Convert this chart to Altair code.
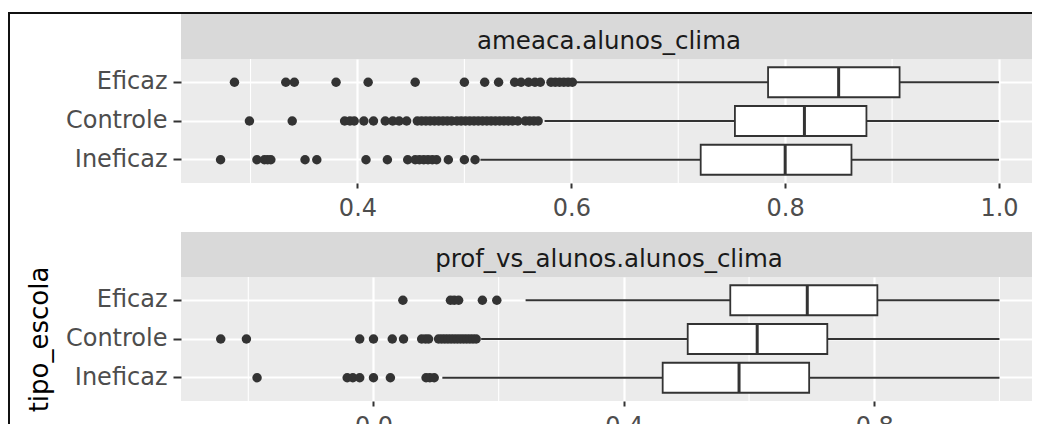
import altair as alt
import pandas as pd

categories = ["Eficaz", "Controle", "Ineficaz"]
panel_names = ["ameaca.alunos_clima", "prof_vs_alunos.alunos_clima"]
axis_title = "tipo_escola"

# ---- panel 1: ameaca.alunos_clima ----
p1_low = [0.604, 0.575, 0.515]
p1_q1 = [0.784, 0.753, 0.721]
p1_med = [0.850, 0.818, 0.800]
p1_q3 = [0.907, 0.876, 0.862]
p1_high = [1.0, 1.0, 1.0]
p1_out_eficaz = [0.285, 0.333, 0.341, 0.380, 0.410, 0.454, 0.500, 0.519, 0.532,
                 0.547, 0.553, 0.560, 0.566, 0.571, 0.581, 0.585, 0.589, 0.593,
                 0.597, 0.601]
p1_out_controle = [0.299, 0.339, 0.388, 0.393, 0.397, 0.406, 0.415, 0.426, 0.433,
                   0.439, 0.446, 0.456, 0.460, 0.464, 0.468, 0.472, 0.476, 0.480,
                   0.484, 0.488, 0.493, 0.497, 0.501, 0.505, 0.509, 0.513, 0.517,
                   0.521, 0.525, 0.529, 0.533, 0.537, 0.541, 0.545, 0.550, 0.557,
                   0.561, 0.565, 0.569]
p1_out_ineficaz = [0.272, 0.306, 0.313, 0.316, 0.319, 0.351, 0.362, 0.408, 0.428,
                   0.447, 0.454, 0.458, 0.462, 0.466, 0.470, 0.474, 0.485, 0.500,
                   0.510]
p1_domain = [0.235, 1.0355]
p1_major = [0.4, 0.6, 0.8, 1.0]
p1_minor = [0.3, 0.5, 0.7, 0.9]

# ---- panel 2: prof_vs_alunos.alunos_clima ----
p2_low = [0.243, 0.172, 0.110]
p2_q1 = [0.570, 0.502, 0.462]
p2_med = [0.693, 0.613, 0.584]
p2_q3 = [0.805, 0.725, 0.696]
p2_high = [1.0, 1.0, 1.0]
p2_out_eficaz = [0.047, 0.123, 0.129, 0.136, 0.174, 0.197]
p2_out_controle = [-0.244, -0.203, -0.022, 0.0, 0.030, 0.048, 0.077, 0.083, 0.088,
                   0.104, 0.109, 0.114, 0.119, 0.124, 0.129, 0.134, 0.139, 0.144,
                   0.149, 0.154, 0.159, 0.164]
p2_out_ineficaz = [-0.186, -0.042, -0.033, -0.022, 0.0, 0.027, 0.084, 0.090, 0.097]
p2_domain = [-0.3075, 1.06]
p2_major = [0.0, 0.4, 0.8]
p2_minor = [-0.2, 0.2, 0.6, 1.0]

W, H = 856, 124
FONT = "DejaVu Sans"
DARK = "#333333"


def make_panel(name, low, q1, med, q3, high, outs, domain, major, minor,
               ytitle=None, frame=False):
    stats = pd.DataFrame({"cat": categories, "low": low, "q1": q1, "med": med,
                          "q3": q3, "high": high})
    rows = []
    for c, vals in zip(categories, outs):
        rows += [{"cat": c, "v": v} for v in vals]
    outl = pd.DataFrame(rows)
    minor_df = pd.DataFrame({"v": minor})
    lab = pd.DataFrame({"label": [name]})

    xscale = alt.Scale(domain=domain, nice=False, zero=False)
    yscale = alt.Scale(domain=categories, paddingInner=0.2, paddingOuter=0.2)
    xaxis = alt.Axis(values=major, format=".1f", title=None, grid=True,
                     gridColor="white", gridWidth=2.2, domain=False,
                     tickColor=DARK, tickWidth=2, tickSize=5,
                     labelFont=FONT, labelFontSize=24, labelColor="#4D4D4D",
                     labelPadding=8)
    yaxis_kw = dict(grid=True, gridColor="white", gridWidth=2.2, domain=False,
                    tickColor=DARK, tickWidth=2, tickSize=8, bandPosition=0.5,
                    labelFont=FONT, labelFontSize=24, labelColor="#4D4D4D",
                    labelPadding=6)
    if ytitle:
        yaxis = alt.Axis(title=ytitle, titleFont=FONT, titleFontSize=26,
                         titleColor="black", titleFontWeight="normal",
                         titleAngle=270, titleBaseline="alphabetic",
                         titleAlign="center", titleX=-134, titleY=H / 2,
                         **yaxis_kw)
    else:
        yaxis = alt.Axis(title=None, **yaxis_kw)

    def X(field):
        return alt.X(field, type="quantitative", scale=xscale, axis=xaxis)

    Y = alt.Y("cat:N", sort=categories, scale=yscale, axis=yaxis)

    minor_rules = alt.Chart(minor_df).mark_rule(color="white", strokeWidth=1.1).encode(
        x=X("v")
    )
    whisk = alt.Chart(stats).mark_rule(color=DARK, strokeWidth=1.8).encode(
        x=X("low"), x2="high:Q", y=Y
    )
    box = alt.Chart(stats).mark_bar(fill="white", stroke=DARK, strokeWidth=1.8,
                                    size=30).encode(
        x=X("q1"), x2="q3:Q", y=Y
    )
    median = alt.Chart(stats).mark_tick(color=DARK, thickness=3, size=30,
                                        opacity=1).encode(
        x=X("med"), y=Y
    )
    points = alt.Chart(outl).mark_circle(color=DARK, size=90, opacity=1).encode(
        x=X("v"), y=Y
    )
    strip = alt.Chart(lab).mark_rect(color="#D9D9D9").encode(
        x=alt.value(0), x2=alt.value(W), y=alt.value(-45), y2=alt.value(0)
    )
    strip_txt = alt.Chart(lab).mark_text(font=FONT, fontSize=24.5, color="#1A1A1A",
                                         baseline="alphabetic", align="center").encode(
        x=alt.value(W / 2), y=alt.value(-10), text="label:N"
    )
    layers = [minor_rules, whisk, box, median, points, strip, strip_txt]
    if frame:
        top_line = alt.Chart(lab).mark_rule(color="#111111", strokeWidth=2).encode(
            x=alt.value(-173), x2=alt.value(W + 10), y=alt.value(-46)
        )
        left_line = alt.Chart(lab).mark_rule(color="#111111", strokeWidth=2).encode(
            x=alt.value(-172), y=alt.value(-47), y2=alt.value(400)
        )
        layers += [top_line, left_line]
    return alt.layer(*layers).properties(width=W, height=H)


top = make_panel(panel_names[0], p1_low, p1_q1, p1_med, p1_q3, p1_high,
                 [p1_out_eficaz, p1_out_controle, p1_out_ineficaz],
                 p1_domain, p1_major, p1_minor, frame=True)
bottom = make_panel(panel_names[1], p2_low, p2_q1, p2_med, p2_q3, p2_high,
                    [p2_out_eficaz, p2_out_controle, p2_out_ineficaz],
                    p2_domain, p2_major, p2_minor, ytitle=axis_title)

chart = alt.vconcat(top, bottom, spacing=94, bounds="flush").properties(
    autosize=alt.AutoSizeParams(type="none"),
    padding={"left": 173, "top": 51, "right": -5, "bottom": 365},
    background="white",
).configure_view(fill="#EBEBEB", stroke=None)

chart.save("out.html", embed_options={"renderer": "svg", "actions": False})
